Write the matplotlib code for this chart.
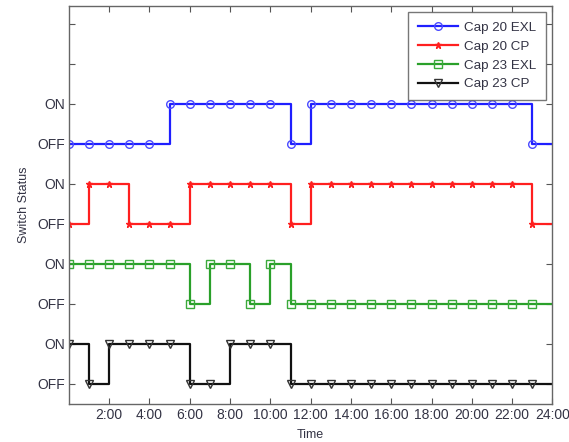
import matplotlib
matplotlib.use("Agg")
import matplotlib.pyplot as plt
import numpy as np

hours = list(range(0, 25))
# 1 = ON, 0 = OFF, hourly states 0..23 (value at 24 repeats the last state)
cap20_exl = [0,0,0,0,0,1,1,1,1,1,1,0,1,1,1,1,1,1,1,1,1,1,1,0,0]
cap20_cp  = [0,1,1,0,0,0,1,1,1,1,1,0,1,1,1,1,1,1,1,1,1,1,1,0,0]
cap23_exl = [1,1,1,1,1,1,0,1,1,0,1,0,0,0,0,0,0,0,0,0,0,0,0,0,0]
cap23_cp  = [1,0,1,1,1,1,0,0,1,1,1,0,0,0,0,0,0,0,0,0,0,0,0,0,0]

series_names = ["Cap 20 EXL", "Cap 20 CP", "Cap 23 EXL", "Cap 23 CP"]
offsets = [6, 4, 2, 0]
xtick_vals = list(range(2, 25, 2))
xtick_labels = [f"{h}:00" for h in xtick_vals]

plt.rcParams['font.family'] = ['Liberation Sans', 'DejaVu Sans']
fig = plt.figure(figsize=(5.69, 4.42), dpi=100)
ax = fig.add_axes([0.121, 0.086, 0.850, 0.901])

styles = [
    dict(color='#1f1fff', marker='o', markersize=5.5, mfc='none', mec='#4a4aff'),
    dict(color='#ff1f1f', marker='*', markersize=4.5, mfc='#ff1f1f', mec='#ff1f1f'),
    dict(color='#2aa02a', marker='s', markersize=5.5, mfc='none', mec='#3aaa3a'),
    dict(color='#111111', marker='v', markersize=6, mfc='none', mec='#333333'),
]
data = [cap20_exl, cap20_cp, cap23_exl, cap23_cp]
for name, vals, off, st in zip(series_names, data, offsets, styles):
    y = np.array(vals) + off
    ax.plot(hours, y, drawstyle='steps-post', lw=1.6, markevery=list(range(24)),
            mew=1.0, label=name, **st)

ax.set_xlim(0, 24)
ax.set_ylim(-0.5, 9.45)
ax.set_xticks(xtick_vals)
ax.set_xticklabels(xtick_labels)
ax.set_yticks(range(0, 10))
ax.set_yticklabels(["OFF", "ON"] * 4 + ["", ""])
ax.tick_params(direction='in', top=True, right=True, length=4, width=0.8,
               color='#555555', labelsize=10, labelcolor='#333344', pad=3)
for sp in ax.spines.values():
    sp.set_color('#666666')
    sp.set_linewidth(1.0)
ax.set_xlabel("Time", fontsize=9, color='#333344', labelpad=5)
ax.set_ylabel("Switch Status", fontsize=9, color='#333344', labelpad=5)

leg = ax.legend(loc='upper right', fontsize=9.6, frameon=True, fancybox=False,
                edgecolor='#555555', handlelength=3.0, borderaxespad=0.45,
                labelspacing=0.48, handletextpad=0.5, borderpad=0.75)
leg.get_frame().set_linewidth(1.0)
for t in leg.get_texts():
    t.set_color('#333344')

fig.savefig("out.png", dpi=100)
